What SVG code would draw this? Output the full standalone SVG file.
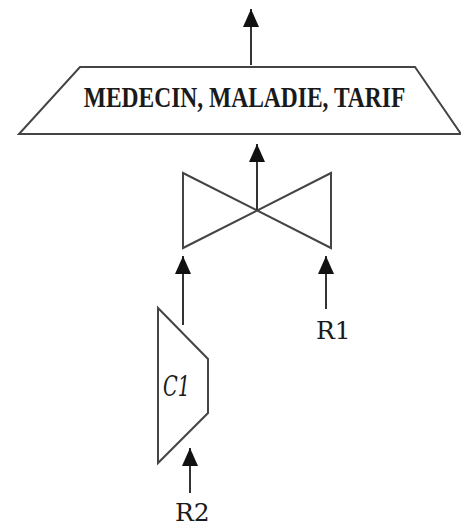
<svg xmlns="http://www.w3.org/2000/svg" width="461" height="527" viewBox="0 0 461 527">
<defs>
<marker id="ah" viewBox="0 0 18 16" refX="18" refY="8" markerWidth="18" markerHeight="16" markerUnits="userSpaceOnUse" orient="auto">
<path d="M18,8 L0,16 L0,0 Z" fill="#111"/>
</marker>
</defs>
<style>
.s{fill:#fff;stroke:#444;stroke-width:2;stroke-linejoin:miter}
.c{stroke:#333;stroke-width:2;fill:none}
.t{font-family:"DejaVu Serif","Liberation Serif",serif;fill:#1a1a1a}
.tb{font-family:"Liberation Serif","Times New Roman",serif;fill:#1a1a1a;font-weight:bold}
</style>
<rect width="461" height="527" fill="#fff"/>
<g id="n-medecin">
<polygon class="s" points="80,67 415,67 461,134 19,134"/>
<text class="tb" transform="translate(244.5,107) scale(1,1.28)" x="0" y="0" font-size="23.5" text-anchor="middle">MEDECIN, MALADIE, TARIF</text>
</g>
<g id="n-join">
<path class="s" d="M183,173 L331,248 L331,173 L183,248 Z"/>
</g>
<g id="n-c1">
<polygon class="s" points="158,308 208,359 208,413 158,463"/>
<text class="t" x="163" y="396" font-size="27" font-style="italic" textLength="27" lengthAdjust="spacingAndGlyphs">C1</text>
</g>
<g id="n-r1">
<text class="t" x="316" y="339" font-size="25">R1</text>
</g>
<g id="n-r2">
<text class="t" x="175" y="521" font-size="25">R2</text>
</g>
<g id="connectors">
<path class="c" d="M251,65 L251,9" marker-end="url(#ah)"/>
<path class="c" d="M257,210 L257,144" marker-end="url(#ah)"/>
<path class="c" d="M183,325 L183,256" marker-end="url(#ah)"/>
<path class="c" d="M326,309 L326,256" marker-end="url(#ah)"/>
<path class="c" d="M190,493 L190,448" marker-end="url(#ah)"/>
</g>
</svg>
